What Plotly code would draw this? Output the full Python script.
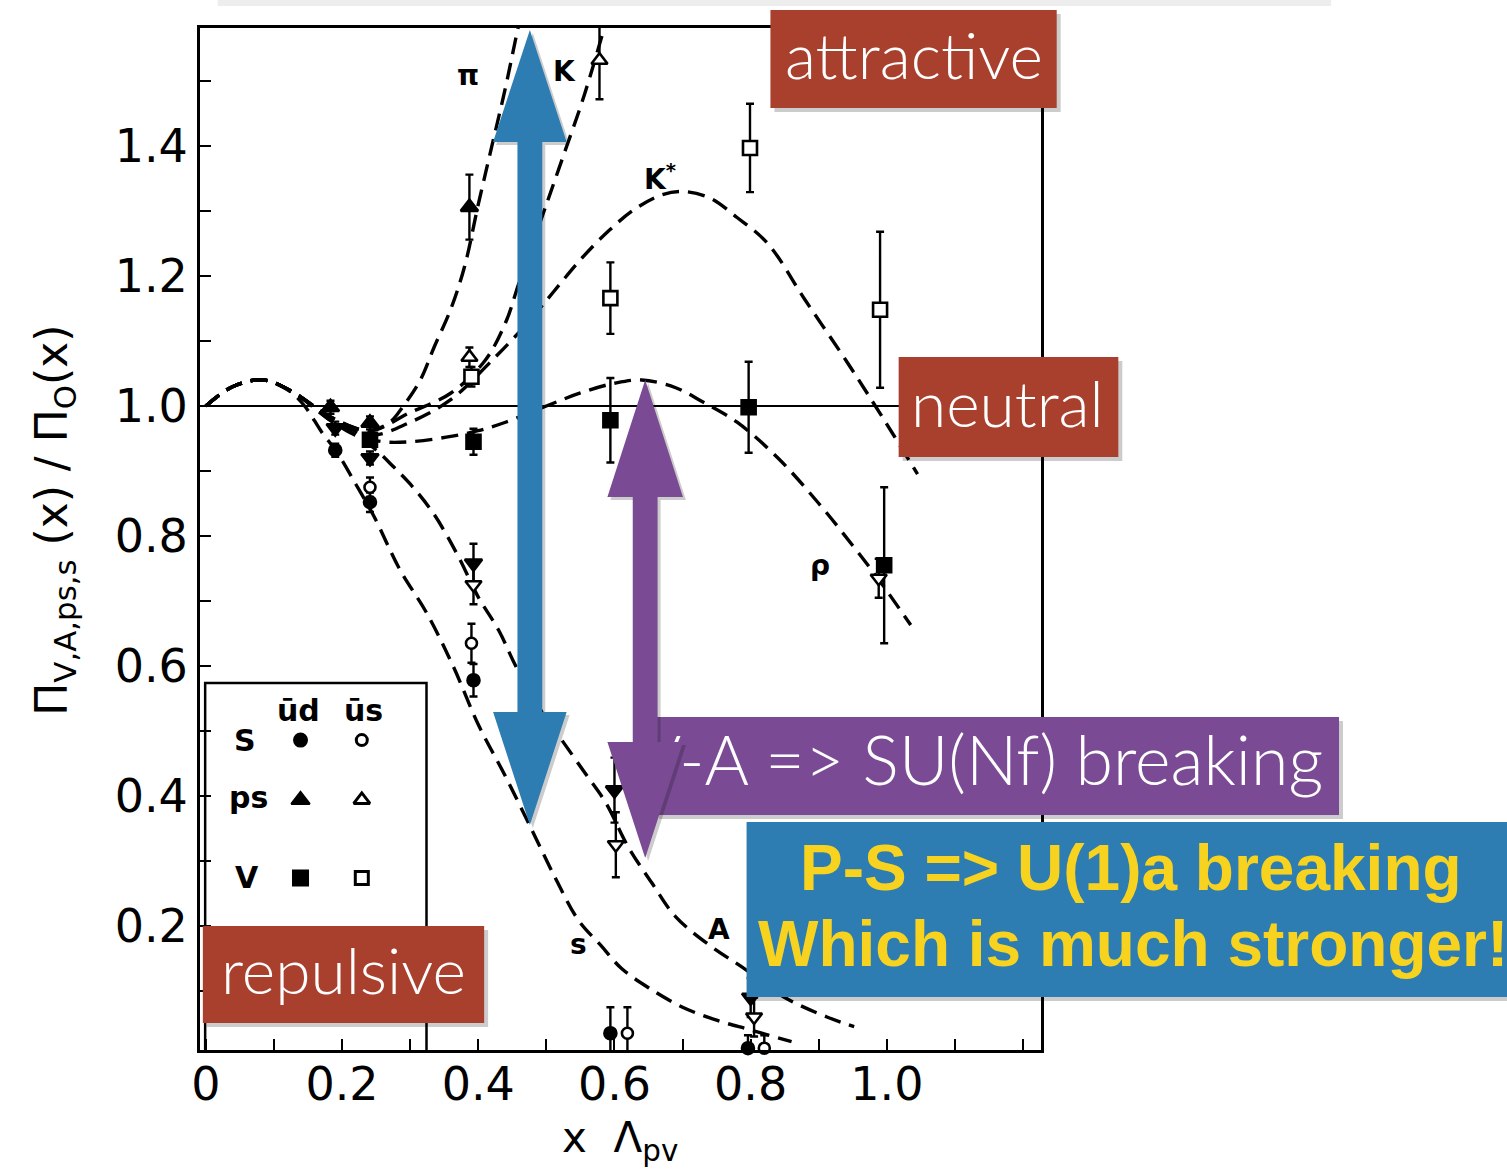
import plotly.graph_objects as go

# ---------------- model curves (x * Lambda_pv, ratio) ----------------
pi_x = [0, 0.04, 0.085, 0.13, 0.18, 0.24, 0.27, 0.29, 0.315, 0.335, 0.36, 0.38, 0.40, 0.42, 0.44, 0.455, 0.47]
pi_y = [1.0, 1.03, 1.04, 1.02, 0.985, 0.962, 0.975, 1.0, 1.04, 1.09, 1.15, 1.215, 1.31, 1.40, 1.49, 1.565, 1.64]

k_x = [0, 0.04, 0.085, 0.13, 0.18, 0.24, 0.30, 0.36, 0.41, 0.44, 0.46, 0.49, 0.51, 0.53, 0.55, 0.565, 0.59]
k_y = [1.0, 1.03, 1.04, 1.02, 0.985, 0.962, 0.99, 1.02, 1.07, 1.128, 1.19, 1.28, 1.34, 1.40, 1.46, 1.51, 1.60]

kstar_x = [0, 0.04, 0.085, 0.13, 0.18, 0.24, 0.30, 0.36, 0.42, 0.47, 0.51, 0.55, 0.59, 0.63, 0.67, 0.70, 0.74,
           0.78, 0.825, 0.88, 0.94, 0.98, 1.01, 1.045]
kstar_y = [1.0, 1.03, 1.04, 1.02, 0.985, 0.955, 0.975, 1.01, 1.07, 1.125, 1.175, 1.225, 1.268, 1.303, 1.325, 1.33,
           1.32, 1.29, 1.25, 1.163, 1.07, 1.005, 0.955, 0.895]

rho_x = [0, 0.04, 0.085, 0.13, 0.18, 0.22, 0.26, 0.30, 0.353, 0.40, 0.44, 0.50, 0.55, 0.60, 0.64, 0.69,
         0.73, 0.78, 0.84, 0.90, 0.95, 0.99, 1.035]
rho_y = [1.0, 1.03, 1.04, 1.02, 0.98, 0.955, 0.945, 0.945, 0.952, 0.962, 0.975, 1.0, 1.02, 1.035, 1.04, 1.028,
         1.006, 0.975, 0.92, 0.85, 0.785, 0.73, 0.663]

s_x = [0, 0.04, 0.085, 0.12, 0.145, 0.17, 0.193, 0.22, 0.247, 0.285, 0.324, 0.363, 0.40, 0.44, 0.48, 0.515,
       0.547, 0.58, 0.61, 0.65, 0.70, 0.75, 0.80, 0.86]
s_y = [1.0, 1.03, 1.04, 1.025, 1.0, 0.96, 0.928, 0.88, 0.83, 0.748, 0.682, 0.60, 0.51, 0.43, 0.345, 0.27,
       0.209, 0.17, 0.135, 0.105, 0.075, 0.055, 0.04, 0.022]

a_x = [0, 0.04, 0.085, 0.13, 0.18, 0.22, 0.247, 0.276, 0.30, 0.334, 0.37, 0.40, 0.43, 0.455, 0.49, 0.52,
       0.557, 0.587, 0.62, 0.655, 0.69, 0.74, 0.787, 0.85, 0.912, 0.952]
a_y = [1.0, 1.03, 1.04, 1.02, 0.98, 0.955, 0.935, 0.906, 0.88, 0.835, 0.77, 0.706, 0.655, 0.60, 0.535, 0.49,
       0.435, 0.39, 0.322, 0.266, 0.214, 0.17, 0.137, 0.09, 0.06, 0.045]

ref_x = [0.0, 1.226]
ref_y = [1.0, 1.0]

# ---------------- lattice points (x, y, error) ----------------
ps_ud_x = [0.183, 0.241, 0.387]
ps_ud_y = [0.998, 0.974, 1.306]
ps_ud_e = [0.01, 0.01, 0.05]
ps_us_x = [0.387, 0.578]
ps_us_y = [1.075, 1.532]
ps_us_e = [0.015, 0.06]

v_ud_x = [0.241, 0.393, 0.594, 0.797, 0.996]
v_ud_y = [0.948, 0.945, 0.978, 0.998, 0.755]
v_ud_e = [0.01, 0.02, 0.065, 0.07, 0.12]
v_us_x = [0.39, 0.594, 0.799, 0.99]
v_us_y = [1.045, 1.166, 1.397, 1.148]
v_us_e = [0.015, 0.055, 0.068, 0.12]

s_ud_x = [0.19, 0.241, 0.393, 0.594, 0.796]
s_ud_y = [0.932, 0.852, 0.578, 0.035, 0.012]
s_ud_e = [0.01, 0.015, 0.025, 0.04, 0.02]
s_us_x = [0.241, 0.39, 0.619, 0.82]
s_us_y = [0.875, 0.635, 0.035, 0.012]
s_us_e = [0.015, 0.03, 0.04, 0.02]

a_ud_x = [0.19, 0.241, 0.393, 0.60, 0.80]
a_ud_y = [0.966, 0.92, 0.758, 0.409, 0.09]
a_ud_e = [0.01, 0.01, 0.03, 0.05, 0.03]
a_us_x = [0.393, 0.602, 0.805, 0.988]
a_us_y = [0.725, 0.325, 0.06, 0.735]
a_us_e = [0.03, 0.05, 0.03, 0.03]

# ---------------- tick labels ----------------
x_tick_vals = [0, 0.2, 0.4, 0.6, 0.8, 1.0]
x_tick_text = ["0", "0.2", "0.4", "0.6", "0.8", "1.0"]
y_tick_vals = [0.2, 0.4, 0.6, 0.8, 1.0, 1.2, 1.4]
y_tick_text = ["0.2", "0.4", "0.6", "0.8", "1.0", "1.2", "1.4"]

curve_labels = ["π", "K", "K<sup>*</sup>", "ρ", "A", "s"]
curve_label_x = [0.385, 0.526, 0.667, 0.902, 0.753, 0.547]
curve_label_y = [1.509, 1.514, 1.352, 0.755, 0.194, 0.171]

W, H = 1507, 1171
fig = go.Figure()

DASH = "17px,9px"
for cx, cy in [(pi_x, pi_y), (k_x, k_y), (kstar_x, kstar_y), (rho_x, rho_y), (s_x, s_y), (a_x, a_y)]:
    fig.add_trace(go.Scatter(x=cx, y=cy, mode="lines", line=dict(color="black", width=3.4, dash=DASH, shape="spline"),
                             hoverinfo="skip"))
fig.add_trace(go.Scatter(x=ref_x, y=ref_y, mode="lines", line=dict(color="black", width=2.2), hoverinfo="skip"))


def pts(x, y, e, symbol, filled, size):
    return go.Scatter(
        x=x, y=y, mode="markers",
        error_y=dict(type="data", array=e, color="black", thickness=2.4, width=4),
        marker=dict(symbol=symbol, size=size, color="black" if filled else "white",
                    line=dict(color="black", width=2.6)),
        hoverinfo="skip", cliponaxis=False)


fig.add_trace(pts(ps_ud_x, ps_ud_y, ps_ud_e, "triangle-up", True, 15))
fig.add_trace(pts(ps_us_x, ps_us_y, ps_us_e, "triangle-up", False, 14))
fig.add_trace(pts(v_ud_x, v_ud_y, v_ud_e, "square", True, 14))
fig.add_trace(pts(v_us_x, v_us_y, v_us_e, "square", False, 14))
fig.add_trace(pts(s_ud_x, s_ud_y, s_ud_e, "circle", True, 12))
fig.add_trace(pts(s_us_x, s_us_y, s_us_e, "circle", False, 11))
fig.add_trace(pts(a_ud_x, a_ud_y, a_ud_e, "triangle-down", True, 15))
fig.add_trace(pts(a_us_x, a_us_y, a_us_e, "triangle-down", False, 14))

# inset legend markers
leg_x_ud, leg_x_us = 0.139, 0.229
leg_rows_y = [0.486, 0.394, 0.274]
for sym, yy, sz in [("circle", leg_rows_y[0], 13), ("triangle-up", leg_rows_y[1], 16), ("square", leg_rows_y[2], 15)]:
    fig.add_trace(go.Scatter(x=[leg_x_ud], y=[yy], mode="markers",
                             marker=dict(symbol=sym, size=sz, color="black", line=dict(color="black", width=2)),
                             hoverinfo="skip"))
    fig.add_trace(go.Scatter(x=[leg_x_us], y=[yy], mode="markers",
                             marker=dict(symbol=sym, size=sz - 2, color="white", line=dict(color="black", width=3)),
                             hoverinfo="skip"))

# inset frame
fig.add_shape(type="rect", xref="x", yref="y", x0=-0.001, x1=0.324, y0=-0.05, y1=0.574,
              line=dict(color="black", width=2.5), layer="below")

annotations = []
for t, x, y in zip(curve_labels, curve_label_x, curve_label_y):
    annotations.append(dict(x=x, y=y, xref="x", yref="y", text=t, showarrow=False,
                            xanchor="center", yanchor="middle",
                            font=dict(family="DejaVu Sans", size=28, color="black", weight="bold")))
for t, x, y in [("ūd", 0.136, 0.531), ("ūs", 0.231, 0.531), ("S", 0.058, 0.486), ("ps", 0.062, 0.398),
                ("V", 0.06, 0.274)]:
    annotations.append(dict(x=x, y=y, xref="x", yref="y", text=t, showarrow=False,
                            xanchor="center", yanchor="middle",
                            font=dict(family="DejaVu Sans", size=30, color="black", weight="bold")))
# axis titles
annotations.append(dict(x=45 / W, y=1 - 520 / H, xref="paper", yref="paper",
                        xanchor="center", yanchor="middle",
                        text="Π<sub>V,A,ps,s</sub> (x) / Π<sub>O</sub>(x)", textangle=-90, showarrow=False,
                        font=dict(family="DejaVu Sans", size=44, color="black")))
annotations.append(dict(x=615 / W, y=1 - 1140 / H, xref="paper", yref="paper",
                        xanchor="center", yanchor="middle",
                        text="x  Λ<sub>pv</sub>", showarrow=False,
                        font=dict(family="DejaVu Sans", size=42, color="black")))

# ---------------- slide overlays (pixel space on a full-figure overlay axis) ----------------
RED = "#A9402E"
PURPLE = "#7A4B94"
BLUE = "#2D7DB3"
YELLOW = "#F7D31F"
SHADOW = "rgba(0,0,0,0.20)"
LIGHT = "Lato, 'Open Sans', sans-serif"
BOLD = "'Liberation Sans', Arial, sans-serif"


def poly(xs, ys, color):
    return go.Scatter(x=xs, y=ys, xaxis="x2", yaxis="y2", mode="lines", fill="toself", fillcolor=color,
                      line=dict(width=0, color=color), hoverinfo="skip")


def rect(x0, y0, x1, y1):
    return [x0, x1, x1, x0, x0], [y0, y0, y1, y1, y0]


def darrow(cx, sh, hh, yt, yht, yhb, yb):
    xs = [cx, cx + hh, cx + sh, cx + sh, cx + hh, cx, cx - hh, cx - sh, cx - sh, cx - hh, cx]
    ys = [yt, yht, yht, yhb, yhb, yb, yhb, yhb, yht, yht, yt]
    return xs, ys


def shadow(xs, ys, d=4):
    return [v + d for v in xs], [v + d for v in ys]


def slide_note(px, py, t, color, size, family, weight):
    return dict(x=px / W, y=1 - py / H, xref="paper", yref="paper", text=t, showarrow=False,
                xanchor="center", yanchor="middle",
                font=dict(family=family, size=size, color=color, weight=weight))


# faint bar at the top edge
fig.add_trace(poly(*rect(210, 0, 1330, 6), "rgba(0,0,0,0.07)"))

red_boxes = [(766, 10, 1054, 108), (895, 357, 1116, 457), (195, 926, 478, 1023)]
for b in red_boxes:
    fig.add_trace(poly(*shadow(*rect(*b)), SHADOW))
    fig.add_trace(poly(*rect(*b), RED))

blue_arrow = darrow(524, 12.5, 37, 30, 142, 712, 825)
fig.add_trace(poly(*shadow(*blue_arrow, d=3), SHADOW))
fig.add_trace(poly(*blue_arrow, BLUE))

purple_box = (650, 717, 1338, 815)
fig.add_trace(poly(*shadow(*rect(*purple_box)), SHADOW))
fig.add_trace(poly(*rect(*purple_box), PURPLE))
# this label sits under the purple arrow head, so it is drawn as trace text (below the arrow)
fig.add_trace(go.Scatter(x=[1322], y=[768], xaxis="x2", yaxis="y2", mode="text",
                         text=["V-A => SU(Nf) breaking"], textposition="middle left",
                         textfont=dict(color="white", size=68, family=LIGHT, weight=300),
                         hoverinfo="skip", cliponaxis=False))

purple_arrow = darrow(640, 12.5, 38, 380, 497, 742, 858)
fig.add_trace(poly(*shadow(*purple_arrow, d=3), SHADOW))
fig.add_trace(poly(*purple_arrow, PURPLE))

blue_box = (742, 822, 1510, 997)
fig.add_trace(poly(*shadow(*rect(*blue_box)), SHADOW))
fig.add_trace(poly(*rect(*blue_box), BLUE))

annotations.append(slide_note(1129, 868, "P-S => U(1)a breaking", YELLOW, 64, BOLD, "bold"))
annotations.append(slide_note(1131, 944, "Which is much stronger!", YELLOW, 64, BOLD, "bold"))
annotations.append(slide_note(910, 54, "attractive", "white", 64, LIGHT, 300))
annotations.append(slide_note(1005, 402, "neutral", "white", 64, LIGHT, 300))
annotations.append(slide_note(337, 969, "repulsive", "white", 64, LIGHT, 300))

axis_common = dict(showgrid=False, zeroline=False, showline=True, linecolor="black", linewidth=2.5, mirror=True,
                   ticks="inside", ticklen=11, tickwidth=2, tickcolor="black",
                   tickfont=dict(family="DejaVu Sans", size=46, color="black"),
                   minor=dict(tickmode="linear", tick0=0, dtick=0.1, ticks="inside", ticklen=11, tickwidth=2,
                              tickcolor="black", showgrid=False))

fig.update_layout(
    width=W, height=H, margin=dict(l=0, r=0, t=0, b=0), autosize=False,
    paper_bgcolor="white", plot_bgcolor="rgba(0,0,0,0)", showlegend=False,
    xaxis=dict(domain=[192 / W, 1038 / W], range=[-0.0088, 1.226], tickmode="array",
               tickvals=x_tick_vals, ticktext=x_tick_text, anchor="y", ticklabelstandoff=-8, **axis_common),
    yaxis=dict(domain=[1 - 1050 / H, 1 - 28 / H], range=[0.0092, 1.5815], tickmode="array",
               tickvals=y_tick_vals, ticktext=y_tick_text, anchor="x", **axis_common),
    xaxis2=dict(domain=[0, 1], range=[0, W], visible=False, anchor="y2", fixedrange=True),
    yaxis2=dict(domain=[0, 1], range=[H, 0], visible=False, anchor="x2", fixedrange=True),
    annotations=annotations,
)

fig.write_html(
    "out.html",
    post_script="document.documentElement.style.overflow='hidden';"
                "document.body.style.margin='0';document.body.style.overflow='hidden';",
)
